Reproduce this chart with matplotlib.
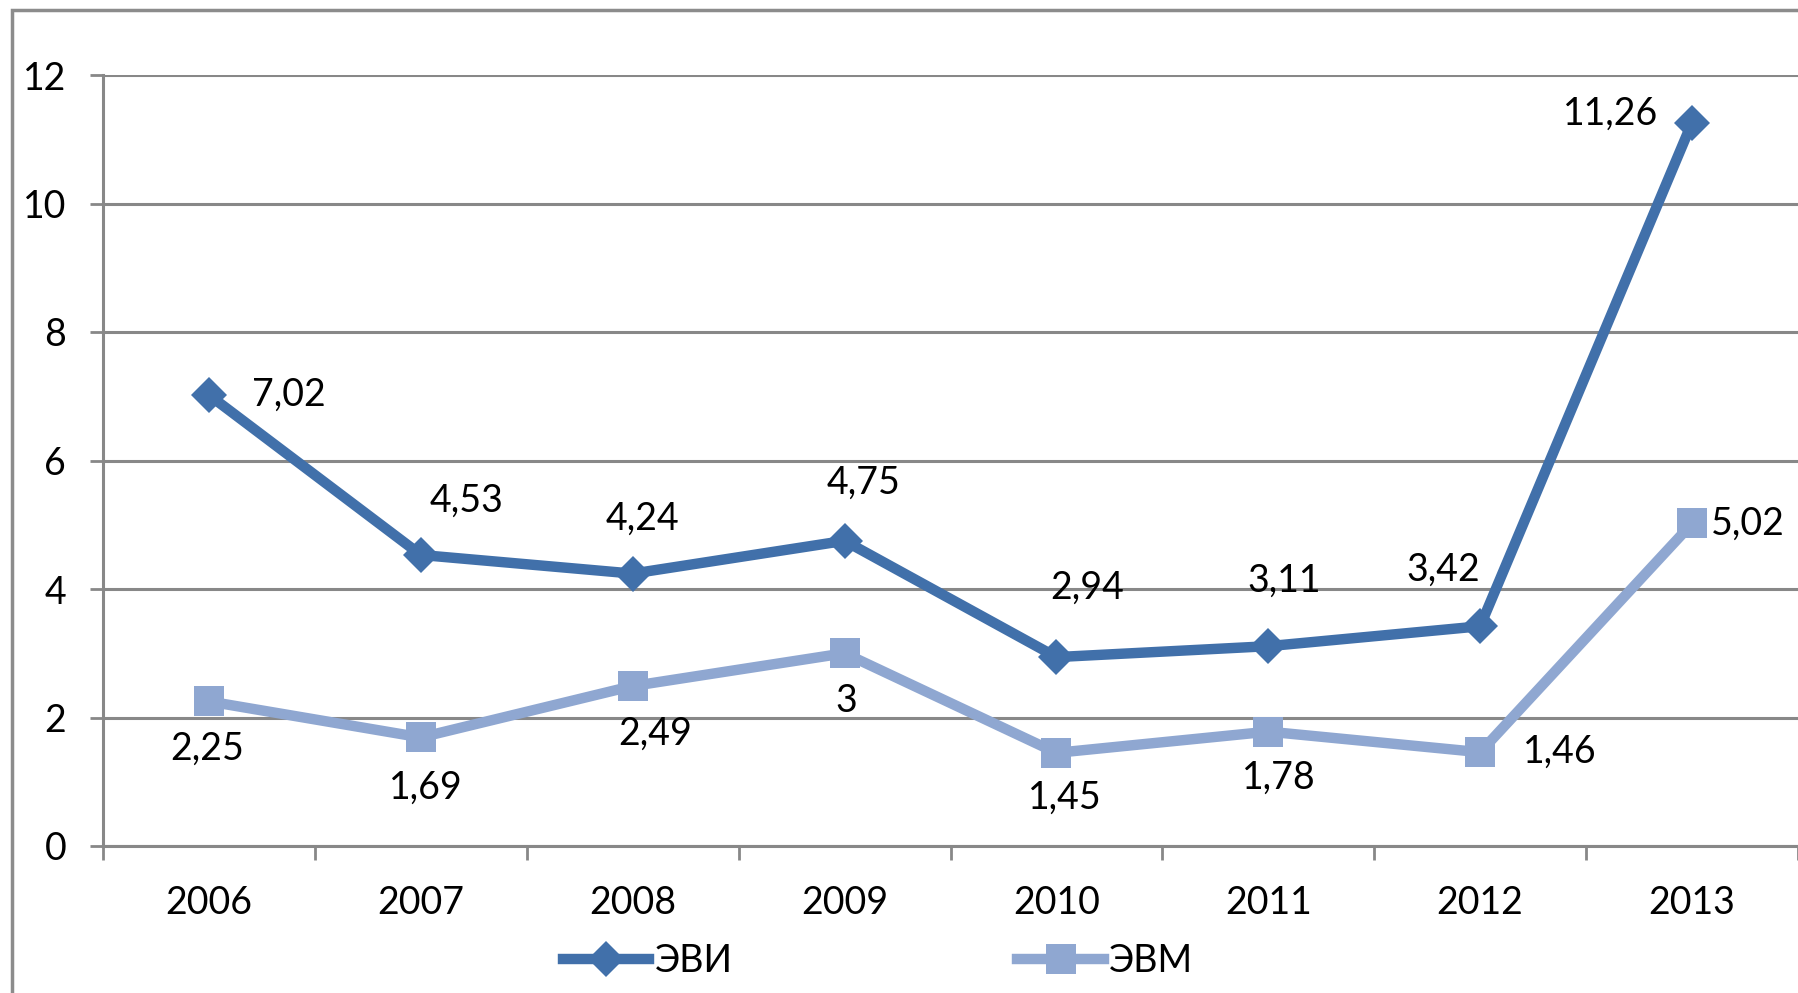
import matplotlib
matplotlib.use("Agg")
import matplotlib.pyplot as plt
from matplotlib.patches import Rectangle
from matplotlib.lines import Line2D

plt.rcParams['font.family'] = ['Lato', 'DejaVu Sans']

years = ['2006', '2007', '2008', '2009', '2010', '2011', '2012', '2013']
evi = [7.02, 4.53, 4.24, 4.75, 2.94, 3.11, 3.42, 11.26]
evm = [2.25, 1.69, 2.49, 3.0, 1.45, 1.78, 1.46, 5.02]
evi_labels = ['7,02', '4,53', '4,24', '4,75', '2,94', '3,11', '3,42', '11,26']
evm_labels = ['2,25', '1,69', '2,49', '3', '1,45', '1,78', '1,46', '5,02']
yticks = [0, 2, 4, 6, 8, 10, 12]

# label offsets in pixels and alignment (layout only)
evi_off = [(80, 0), (46, 54), (10, 55), (19, 58), (31, 69), (16, 65), (-37, 57), (-81, 9)]
evm_off = [(-2, -47), (5, -50), (23, -48), (2, -48), (8, -45), (11, -46), (43, 0), (19, 0)]
evm_ha = ['center'] * 6 + ['left', 'left']

c_evi = '#4170AA'
c_evm = '#8FA7D1'
grid_c = '#888888'

W, H = 1798, 993
fig = plt.figure(figsize=(W / 100, H / 100), dpi=100)

left_px, top_px, bottom_px = 103, 75, 846
ax = fig.add_axes([left_px / W, 1 - bottom_px / H, 1 - left_px / W, (bottom_px - top_px) / H])

x = list(range(len(years)))
ax.plot(x, evi, color=c_evi, lw=7.5, marker='D', markersize=18, markeredgewidth=0,
        zorder=3)
ax.plot(x, evm, color=c_evm, lw=7.5, marker='s', markersize=22, markeredgewidth=0,
        zorder=3)

fs = 27
for xi, v, t, (dx, dy) in zip(x, evi, evi_labels, evi_off):
    ax.annotate(t, (xi, v), xytext=(dx, dy), textcoords='offset pixels',
                ha='center', va='center', fontsize=fs, color='black', zorder=4)
for xi, v, t, (dx, dy), ha in zip(x, evm, evm_labels, evm_off, evm_ha):
    ax.annotate(t, (xi, v), xytext=(dx, dy), textcoords='offset pixels',
                ha=ha, va='center', fontsize=fs, color='black', zorder=4)

ax.set_xlim(-0.5, -0.5 + (W - left_px) / 212.3)
ax.set_ylim(0, 12)
ax.set_yticks(yticks)
ax.set_yticklabels([str(v) for v in yticks])
ax.set_xticks(x)
ax.set_xticklabels(years)
ax.set_xticks([i + 0.5 for i in range(-1, len(years))], minor=True)
ax.tick_params(axis='x', which='major', length=0, pad=28, labelsize=fs)
ax.tick_params(axis='x', which='minor', length=10, width=2, color=grid_c)
ax.tick_params(axis='y', which='major', length=9.5, width=2, color=grid_c, pad=17, labelsize=fs)

ax.grid(axis='y', color=grid_c, lw=2.2)
ax.set_axisbelow(True)
for s in ['top', 'right']:
    ax.spines[s].set_visible(False)
for s in ['left', 'bottom']:
    ax.spines[s].set_color(grid_c)
    ax.spines[s].set_linewidth(2.2)

# outer chart frame
fig.add_artist(Rectangle((12 / W, -0.1), 1.2, 1 - 10 / H + 0.1, transform=fig.transFigure,
                         fill=False, edgecolor='#8C8C8C', lw=2.5))

handles = [Line2D([0], [0], color=c_evi, lw=7.5, marker='D', markersize=18, markeredgewidth=0),
           Line2D([0], [0], color=c_evm, lw=7.5, marker='s', markersize=22, markeredgewidth=0)]
fig.legend(handles, ['ЭВИ', 'ЭВМ'], loc='center', bbox_to_anchor=(878 / W, 1 - 961 / H),
           ncol=2, frameon=False, fontsize=fs, handlelength=2.3, handletextpad=0.15,
           columnspacing=7.6, borderpad=0)

fig.savefig('out.png', dpi=100)
